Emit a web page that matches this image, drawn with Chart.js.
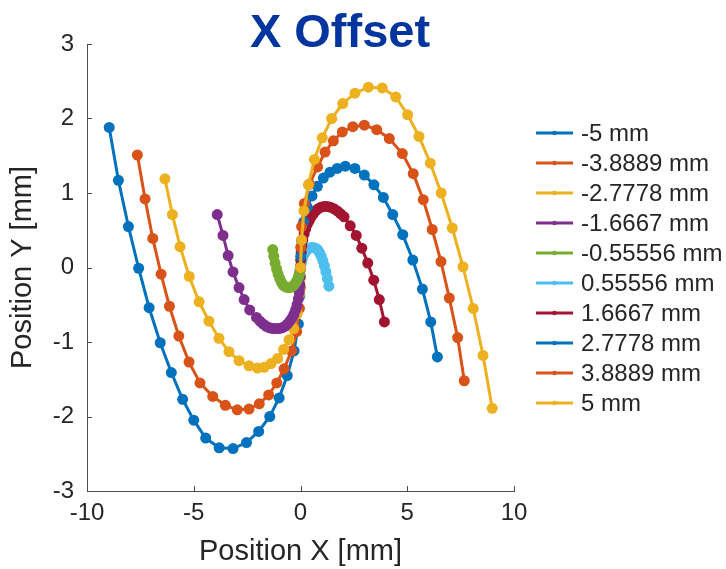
<!DOCTYPE html>
<html>
<head>
<meta charset="utf-8">
<script src="https://cdn.jsdelivr.net/npm/chart.js@4.4.1/dist/chart.umd.min.js"></script>
<style>
  html, body { margin: 0; padding: 0; background: #fff; }
  canvas { display: block; }
</style>
</head>
<body>
<canvas id="chart" width="726" height="569"></canvas>
<script>
// series labels and colours (MATLAB default order)
var seriesLabels = ['-5 mm', '-3.8889 mm', '-2.7778 mm', '-1.6667 mm', '-0.55556 mm',
                    '0.55556 mm', '1.6667 mm', '2.7778 mm', '3.8889 mm', '5 mm'];
var seriesColors = ['#0072BD', '#D95319', '#EDB120', '#7E2F8E', '#77AC30',
                    '#4DBEEE', '#A2142F', '#0072BD', '#D95319', '#EDB120'];

var xTicks = [-10, -5, 0, 5, 10];
var yTicks = [-3, -2, -1, 0, 1, 2, 3];

// positions, one x / y array per series
var xNeg5 = [-8.96, -8.53, -8.06, -7.58, -7.09, -6.57, -6.05, -5.52, -5.00, -4.44, -3.81, -3.16, -2.53, -1.96, -1.44, -1.00, -0.62, -0.30, -0.10, -0.03, 0.00];
var yNeg5 = [1.88, 1.17, 0.55, -0.01, -0.54, -1.01, -1.41, -1.77, -2.05, -2.29, -2.42, -2.43, -2.35, -2.20, -2.00, -1.75, -1.45, -1.12, -0.76, -0.38, 0.00];

var xNeg389 = [-7.64, -7.28, -6.92, -6.53, -6.14, -5.70, -5.22, -4.71, -4.11, -3.52, -2.96, -2.41, -1.93, -1.49, -1.11, -0.77, -0.42, -0.18, -0.05, -0.01, 0.00];
var yNeg389 = [1.51, 0.92, 0.39, -0.09, -0.52, -0.92, -1.27, -1.55, -1.73, -1.85, -1.91, -1.90, -1.83, -1.71, -1.55, -1.36, -1.12, -0.86, -0.55, -0.27, 0.00];

var xNeg278 = [-6.35, -6.00, -5.64, -5.21, -4.75, -4.29, -3.82, -3.35, -2.88, -2.41, -2.02, -1.70, -1.38, -1.07, -0.79, -0.54, -0.32, -0.15, -0.05, -0.01, 0.00];
var yNeg278 = [1.19, 0.71, 0.28, -0.12, -0.46, -0.72, -0.95, -1.13, -1.25, -1.32, -1.35, -1.34, -1.29, -1.22, -1.10, -0.97, -0.82, -0.62, -0.37, -0.15, 0.00];

// purple: sparse on the outer arm, dense along the bottom
var xNeg167 = [-3.90, -3.63, -3.39, -3.16, -2.88, -2.64, -2.38, -2.06, -1.90, -1.75, -1.60, -1.45, -1.30, -1.15, -1.00, -0.86, -0.73, -0.61, -0.50, -0.40, -0.31, -0.23, -0.16, -0.10, -0.06, -0.03, -0.01, 0.00];
var yNeg167 = [0.71, 0.43, 0.16, -0.06, -0.27, -0.43, -0.57, -0.67, -0.72, -0.76, -0.79, -0.81, -0.82, -0.82, -0.82, -0.81, -0.79, -0.76, -0.72, -0.68, -0.63, -0.57, -0.50, -0.42, -0.33, -0.23, -0.12, 0.00];

var xNeg056 = [-1.30, -1.25, -1.19, -1.12, -1.05, -0.97, -0.89, -0.80, -0.70, -0.60, -0.50, -0.41, -0.32, -0.24, -0.17, -0.11, -0.07, -0.04, -0.02, -0.01, 0.00];
var yNeg056 = [0.24, 0.15, 0.06, -0.02, -0.09, -0.15, -0.20, -0.24, -0.26, -0.27, -0.27, -0.26, -0.24, -0.21, -0.18, -0.14, -0.10, -0.07, -0.04, -0.02, 0.00];

var xPos056 = [0.00, 0.01, 0.02, 0.04, 0.07, 0.11, 0.17, 0.24, 0.32, 0.41, 0.50, 0.60, 0.70, 0.80, 0.89, 0.97, 1.05, 1.12, 1.19, 1.26, 1.33];
var yPos056 = [0.00, 0.02, 0.04, 0.07, 0.10, 0.14, 0.18, 0.21, 0.24, 0.26, 0.27, 0.27, 0.26, 0.24, 0.20, 0.15, 0.09, 0.02, -0.06, -0.15, -0.25];

// dark red: dense near the top, sparse on the outer arm
var xPos167 = [0.00, 0.01, 0.03, 0.06, 0.11, 0.17, 0.24, 0.32, 0.41, 0.50, 0.60, 0.71, 0.83, 0.96, 1.10, 1.25, 1.40, 1.56, 1.72, 1.88, 2.04, 2.33, 2.61, 2.87, 3.15, 3.43, 3.69, 3.93];
var yPos167 = [0.00, 0.10, 0.20, 0.29, 0.37, 0.45, 0.52, 0.58, 0.63, 0.68, 0.72, 0.76, 0.79, 0.81, 0.82, 0.82, 0.81, 0.79, 0.76, 0.72, 0.68, 0.56, 0.43, 0.26, 0.06, -0.17, -0.43, -0.73];

var xPos278 = [0.00, 0.01, 0.05, 0.15, 0.32, 0.54, 0.79, 1.07, 1.38, 1.72, 2.10, 2.55, 2.99, 3.44, 3.88, 4.32, 4.79, 5.26, 5.71, 6.10, 6.41];
var yPos278 = [0.00, 0.15, 0.36, 0.61, 0.81, 0.96, 1.09, 1.20, 1.28, 1.33, 1.36, 1.33, 1.24, 1.11, 0.94, 0.71, 0.44, 0.10, -0.29, -0.73, -1.20];

var xPos389 = [0.00, 0.01, 0.05, 0.18, 0.42, 0.80, 1.15, 1.54, 1.96, 2.45, 2.99, 3.57, 4.16, 4.77, 5.28, 5.75, 6.17, 6.58, 6.97, 7.36, 7.67];
var yPos389 = [0.00, 0.27, 0.55, 0.86, 1.12, 1.35, 1.55, 1.70, 1.82, 1.89, 1.91, 1.85, 1.73, 1.53, 1.26, 0.91, 0.51, 0.08, -0.41, -0.94, -1.52];

var xPos5 = [0.00, 0.05, 0.16, 0.37, 0.65, 1.02, 1.46, 1.98, 2.55, 3.18, 3.83, 4.46, 5.02, 5.55, 6.08, 6.59, 7.11, 7.61, 8.09, 8.55, 8.98];
var yPos5 = [0.00, 0.37, 0.76, 1.11, 1.45, 1.74, 2.00, 2.20, 2.34, 2.42, 2.41, 2.29, 2.05, 1.76, 1.40, 1.00, 0.53, 0.01, -0.55, -1.18, -1.89];

var allX = [xNeg5, xNeg389, xNeg278, xNeg167, xNeg056, xPos056, xPos167, xPos278, xPos389, xPos5];
var allY = [yNeg5, yNeg389, yNeg278, yNeg167, yNeg056, yPos056, yPos167, yPos278, yPos389, yPos5];

var FONT = "'Liberation Sans', Arial, Helvetica, sans-serif";
var TEXT = '#262626';

var datasets = seriesLabels.map(function (lab, i) {
  return {
    label: lab,
    data: allX[i].map(function (x, j) { return { x: x, y: allY[i][j] }; }),
    showLine: true,
    borderColor: seriesColors[i],
    backgroundColor: seriesColors[i],
    borderWidth: 3,
    pointRadius: 5.5,
    pointBorderWidth: 0,
    pointHoverRadius: 5.5,
    order: seriesLabels.length - i   // later series on top, like matlab
  };
});

// title, inward ticks and the legend box
var decor = {
  id: 'decor',
  afterDraw: function (chart) {
    var ctx = chart.ctx;
    var xs = chart.scales.x, ys = chart.scales.y;
    ctx.save();
    ctx.strokeStyle = '#4d4d4d';
    ctx.lineWidth = 1;
    ctx.beginPath();
    xTicks.forEach(function (v) {
      var px = Math.round(xs.getPixelForValue(v)) + 0.5;
      ctx.moveTo(px, ys.bottom);
      ctx.lineTo(px, ys.bottom - 5);
    });
    yTicks.forEach(function (v) {
      var py = Math.round(ys.getPixelForValue(v)) + 0.5;
      ctx.moveTo(xs.left, py);
      ctx.lineTo(xs.left + 5, py);
    });
    ctx.stroke();

    // title
    ctx.fillStyle = '#00349E';
    ctx.font = 'bold 47px ' + FONT;
    ctx.textAlign = 'center';
    ctx.textBaseline = 'alphabetic';
    ctx.fillText('X Offset', 340, 47);

    // legend
    ctx.font = '24px ' + FONT;
    ctx.textAlign = 'left';
    ctx.textBaseline = 'middle';
    chart.data.datasets.forEach(function (ds, i) {
      var y = 133 + i * 30;
      ctx.strokeStyle = ds.borderColor;
      ctx.lineWidth = 3;
      ctx.beginPath();
      ctx.moveTo(536, y);
      ctx.lineTo(573, y);
      ctx.stroke();
      ctx.fillStyle = ds.borderColor;
      ctx.beginPath();
      ctx.arc(554.5, y, 2.2, 0, Math.PI * 2);
      ctx.fill();
      ctx.fillStyle = TEXT;
      ctx.fillText(ds.label, 581, y + 1);
    });
    ctx.restore();
  }
};

var chart = new Chart(document.getElementById('chart'), {
  type: 'scatter',
  data: { datasets: datasets },
  options: {
    responsive: false,
    animation: false,
    devicePixelRatio: 1,
    layout: { padding: { top: 44, right: 212, left: 0, bottom: 0 } },
    plugins: {
      legend: { display: false },
      tooltip: { enabled: false },
      title: { display: false }
    },
    scales: {
      x: {
        type: 'linear',
        min: -10,
        max: 10,
        afterBuildTicks: function (s) { s.ticks = xTicks.map(function (v) { return { value: v }; }); },
        afterFit: function (s) { s.height = 78; },
        grid: { display: false, drawTicks: false },
        border: { display: true, color: '#4d4d4d', width: 1 },
        ticks: { font: { family: FONT, size: 24 }, color: TEXT, padding: 8, maxRotation: 0 },
        title: {
          display: true, text: 'Position X [mm]', color: TEXT,
          font: { family: FONT, size: 29 }, padding: { top: 0, bottom: 0 }
        }
      },
      y: {
        type: 'linear',
        min: -3,
        max: 3,
        afterBuildTicks: function (s) { s.ticks = yTicks.map(function (v) { return { value: v }; }); },
        afterFit: function (s) { s.width = 87; },
        grid: { display: false, drawTicks: false },
        border: { display: true, color: '#4d4d4d', width: 1 },
        ticks: { font: { family: FONT, size: 24 }, color: TEXT, padding: 13 },
        title: {
          display: true, text: 'Position Y [mm]', color: TEXT,
          font: { family: FONT, size: 29 }, padding: { top: 6, bottom: 0 }
        }
      }
    }
  },
  plugins: [decor]
});
</script>
</body>
</html>
